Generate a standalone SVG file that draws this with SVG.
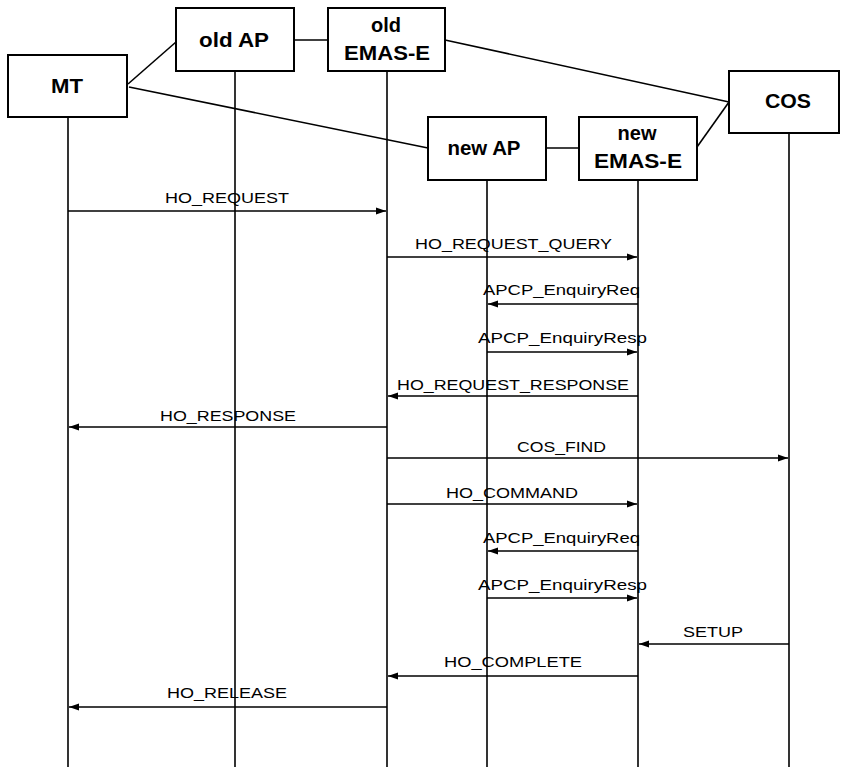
<svg xmlns="http://www.w3.org/2000/svg" width="841" height="767" viewBox="0 0 841 767">
<defs>
<marker id="ah" markerUnits="userSpaceOnUse" markerWidth="10" markerHeight="8" refX="10" refY="4" orient="auto">
<path d="M0,0.5 L10,4 L0,7.5 Z" fill="#000"/>
</marker>
<style>
.box{fill:#fff;stroke:#000;stroke-width:2}
.bl{font-family:"Liberation Sans",Arial,sans-serif;font-weight:bold;font-size:20px;text-anchor:middle;fill:#000}
.life{stroke:#000;stroke-width:1.6;fill:none}
.link{stroke:#000;stroke-width:1.6;fill:none}
.msg{stroke:#000;stroke-width:1.6;fill:none;marker-end:url(#ah)}
.ml{font-family:"Liberation Sans",Arial,sans-serif;font-size:15px;fill:#000}
</style>
</defs>
<rect width="841" height="767" fill="#fff"/>
<g id="lifelines">
<line class="life" x1="68" y1="117" x2="68" y2="767"/>
<line class="life" x1="235" y1="71" x2="235" y2="767"/>
<line class="life" x1="387" y1="71" x2="387" y2="767"/>
<line class="life" x1="487" y1="180" x2="487" y2="767"/>
<line class="life" x1="638" y1="180" x2="638" y2="767"/>
<line class="life" x1="789" y1="133" x2="789" y2="767"/>
</g>
<g id="links">
<line class="link" x1="128" y1="84" x2="176" y2="42"/>
<line class="link" x1="129" y1="87" x2="428" y2="148"/>
<line class="link" x1="294" y1="40" x2="328" y2="40"/>
<line class="link" x1="445" y1="40" x2="729" y2="102"/>
<line class="link" x1="546" y1="148" x2="579" y2="148"/>
<line class="link" x1="697" y1="147" x2="729" y2="102"/>
</g>
<g id="MT"><rect class="box" x="8" y="55" width="119" height="62"/><text class="bl" x="67" y="93" textLength="32" lengthAdjust="spacingAndGlyphs">MT</text></g>
<g id="oldAP"><rect class="box" x="176" y="8" width="118" height="63"/><text class="bl" x="234" y="47" textLength="70" lengthAdjust="spacingAndGlyphs">old AP</text></g>
<g id="oldEMAS"><rect class="box" x="328" y="8" width="117" height="63"/><text class="bl" x="386" y="32">old</text><text class="bl" x="387" y="60" textLength="86" lengthAdjust="spacingAndGlyphs">EMAS-E</text></g>
<g id="newAP"><rect class="box" x="428" y="117" width="118" height="63"/><text class="bl" x="484" y="155" textLength="73" lengthAdjust="spacingAndGlyphs">new AP</text></g>
<g id="newEMAS"><rect class="box" x="579" y="117" width="118" height="63"/><text class="bl" x="637" y="140">new</text><text class="bl" x="638" y="168" textLength="88" lengthAdjust="spacingAndGlyphs">EMAS-E</text></g>
<g id="COS"><rect class="box" x="729" y="71" width="110" height="62"/><text class="bl" x="788" y="108" textLength="46" lengthAdjust="spacingAndGlyphs">COS</text></g>
<g id="messages">
<line class="msg" x1="68" y1="211" x2="386" y2="211"/>
<text class="ml" x="165" y="203" textLength="124" lengthAdjust="spacingAndGlyphs">HO_REQUEST</text>
<line class="msg" x1="387" y1="257" x2="637" y2="257"/>
<text class="ml" x="415" y="249" textLength="197" lengthAdjust="spacingAndGlyphs">HO_REQUEST_QUERY</text>
<line class="msg" x1="638" y1="304" x2="488" y2="304"/>
<text class="ml" x="483" y="295" textLength="157" lengthAdjust="spacingAndGlyphs">APCP_EnquiryReq</text>
<line class="msg" x1="487" y1="352" x2="637" y2="352"/>
<text class="ml" x="478" y="343" textLength="169" lengthAdjust="spacingAndGlyphs">APCP_EnquiryResp</text>
<line class="msg" x1="638" y1="396" x2="388" y2="396"/>
<text class="ml" x="397" y="390" textLength="232" lengthAdjust="spacingAndGlyphs">HO_REQUEST_RESPONSE</text>
<line class="msg" x1="387" y1="427" x2="69" y2="427"/>
<text class="ml" x="160" y="421" textLength="136" lengthAdjust="spacingAndGlyphs">HO_RESPONSE</text>
<line class="msg" x1="387" y1="458" x2="788" y2="458"/>
<text class="ml" x="517" y="452" textLength="89" lengthAdjust="spacingAndGlyphs">COS_FIND</text>
<line class="msg" x1="387" y1="504" x2="637" y2="504"/>
<text class="ml" x="446" y="498" textLength="132" lengthAdjust="spacingAndGlyphs">HO_COMMAND</text>
<line class="msg" x1="638" y1="551" x2="488" y2="551"/>
<text class="ml" x="483" y="543" textLength="157" lengthAdjust="spacingAndGlyphs">APCP_EnquiryReq</text>
<line class="msg" x1="487" y1="598" x2="637" y2="598"/>
<text class="ml" x="478" y="590" textLength="169" lengthAdjust="spacingAndGlyphs">APCP_EnquiryResp</text>
<line class="msg" x1="789" y1="644" x2="639" y2="644"/>
<text class="ml" x="683" y="637" textLength="60" lengthAdjust="spacingAndGlyphs">SETUP</text>
<line class="msg" x1="638" y1="676" x2="388" y2="676"/>
<text class="ml" x="444" y="667" textLength="138" lengthAdjust="spacingAndGlyphs">HO_COMPLETE</text>
<line class="msg" x1="387" y1="707" x2="69" y2="707"/>
<text class="ml" x="167" y="698" textLength="120" lengthAdjust="spacingAndGlyphs">HO_RELEASE</text>
</g>
</svg>
